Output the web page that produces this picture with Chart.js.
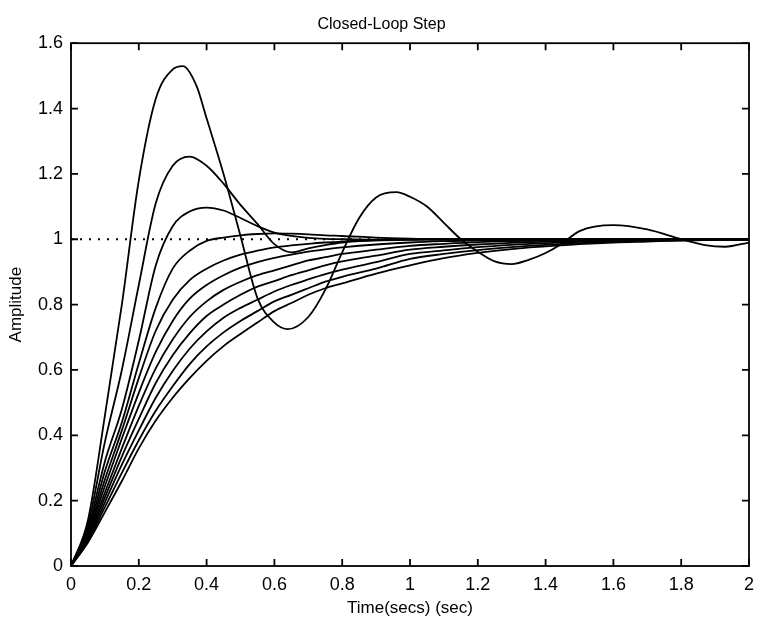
<!DOCTYPE html>
<html>
<head>
<meta charset="utf-8">
<script src="https://cdn.jsdelivr.net/npm/chart.js@4.4.1/dist/chart.umd.min.js"></script>
<style>
  body { margin: 0; background: #fff; }
  canvas { display: block; }
</style>
</head>
<body>
<canvas id="stepChart" width="762" height="619"></canvas>
<script>
// aika-akseli (s) yhteinen useimmille käyrille
const T = [0, 0.05, 0.1, 0.15, 0.2, 0.25, 0.3, 0.35, 0.4, 0.45, 0.5, 0.55, 0.6, 0.65, 0.7, 0.75, 0.8, 0.9, 1.0, 1.1, 1.2, 1.3, 1.4, 1.5, 1.6, 1.7, 1.8, 1.9, 2.0];

// värähtelevä käyrä, oma aikavektori
const T1 = [0, 0.05, 0.1, 0.15, 0.2, 0.25, 0.3, 0.33, 0.37, 0.4, 0.45, 0.5, 0.55, 0.6, 0.64, 0.7, 0.75, 0.8, 0.85, 0.9, 0.96, 1.0, 1.05, 1.1, 1.15, 1.2, 1.25, 1.3, 1.35, 1.4, 1.45, 1.5, 1.6, 1.7, 1.8, 1.87, 1.93, 2.0];
const y1 = [0, 0.14, 0.46, 0.8, 1.18, 1.43, 1.52, 1.53, 1.47, 1.37, 1.2, 1.01, 0.82, 0.745, 0.725, 0.762, 0.845, 0.96, 1.065, 1.128, 1.144, 1.13, 1.1, 1.05, 1.0, 0.962, 0.932, 0.924, 0.937, 0.958, 0.988, 1.025, 1.043, 1.03, 1.0, 0.982, 0.977, 0.99];

const y2 = [0, 0.125, 0.38, 0.6, 0.86, 1.11, 1.225, 1.253, 1.225, 1.17, 1.105, 1.047, 0.985, 0.96, 0.972, 0.982, 0.99, 0.997, 1, 1, 1, 1, 1, 1, 1, 1, 1, 1, 1];
const y3 = [0, 0.115, 0.32, 0.48, 0.69, 0.92, 1.04, 1.085, 1.097, 1.088, 1.065, 1.04, 1.02, 1.01, 1.004, 1.001, 1.0, 0.999, 1, 1, 1, 1, 1, 1, 1, 1, 1, 1, 1];
const y4 = [0, 0.105, 0.29, 0.44, 0.62, 0.79, 0.91, 0.965, 0.995, 1.005, 1.012, 1.016, 1.018, 1.017, 1.015, 1.012, 1.01, 1.005, 1.002, 1, 1, 1, 1, 1, 1, 1, 1, 1, 1];
const y5 = [0, 0.1, 0.265, 0.415, 0.575, 0.72, 0.815, 0.875, 0.91, 0.935, 0.953, 0.965, 0.975, 0.981, 0.986, 0.99, 0.993, 0.997, 0.998, 1, 1, 1, 1, 1, 1, 1, 1, 1, 1];
const y6 = [0, 0.095, 0.245, 0.39, 0.53, 0.655, 0.75, 0.818, 0.86, 0.89, 0.913, 0.93, 0.943, 0.953, 0.962, 0.969, 0.975, 0.984, 0.99, 0.994, 0.997, 0.998, 0.999, 1, 1, 1, 1, 1, 1];
const y7 = [0, 0.09, 0.225, 0.36, 0.49, 0.605, 0.693, 0.762, 0.81, 0.845, 0.87, 0.89, 0.905, 0.92, 0.935, 0.945, 0.955, 0.968, 0.98, 0.986, 0.991, 0.994, 0.996, 0.998, 0.999, 1, 1, 1, 1];
const y8 = [0, 0.085, 0.21, 0.335, 0.45, 0.56, 0.645, 0.712, 0.765, 0.8, 0.83, 0.855, 0.872, 0.89, 0.905, 0.92, 0.932, 0.95, 0.968, 0.977, 0.984, 0.989, 0.993, 0.995, 0.997, 0.998, 0.999, 0.999, 1];
const y9 = [0, 0.08, 0.195, 0.31, 0.415, 0.515, 0.597, 0.665, 0.718, 0.76, 0.79, 0.815, 0.84, 0.86, 0.877, 0.893, 0.907, 0.93, 0.955, 0.966, 0.976, 0.983, 0.988, 0.992, 0.994, 0.996, 0.998, 0.999, 1];
const y10 = [0, 0.076, 0.18, 0.285, 0.385, 0.475, 0.55, 0.618, 0.672, 0.715, 0.75, 0.78, 0.81, 0.83, 0.85, 0.87, 0.885, 0.91, 0.94, 0.955, 0.967, 0.976, 0.983, 0.988, 0.992, 0.995, 0.997, 0.998, 0.999];
const y11 = [0, 0.072, 0.165, 0.26, 0.36, 0.445, 0.515, 0.575, 0.628, 0.673, 0.71, 0.745, 0.78, 0.805, 0.83, 0.85, 0.865, 0.895, 0.92, 0.942, 0.958, 0.97, 0.978, 0.985, 0.99, 0.993, 0.996, 0.998, 0.999];

// vertailutaso 1
const refT = [0, 2];
const refY = [1, 1];

const FONT = "Arial, 'Liberation Sans', sans-serif";

function pts(xs, ys) {
  return xs.map((x, i) => ({ x: x, y: ys[i] }));
}

function curve(xs, ys) {
  return {
    data: pts(xs, ys),
    borderColor: "#000",
    borderWidth: 1.8,
    pointRadius: 0,
    fill: false,
    cubicInterpolationMode: "monotone",
  };
}

const datasets = [
  {
    data: pts(refT, refY),
    borderColor: "#000",
    borderWidth: 1.8,
    borderDash: [2, 7],
    pointRadius: 0,
    fill: false,
  },
  curve(T1, y1),
];
[y2, y3, y4, y5, y6, y7, y8, y9, y10, y11].forEach((ys) => datasets.push(curve(T, ys)));

// kehys ja sisäänpäin osoittavat tikit kaikille neljälle sivulle
const frameTicks = {
  id: "frameTicks",
  afterDatasetsDraw(chart) {
    const ctx = chart.ctx;
    const a = chart.chartArea;
    const sx = chart.scales.x;
    const sy = chart.scales.y;
    ctx.save();
    ctx.strokeStyle = "#000";
    ctx.lineWidth = 1.8;
    ctx.strokeRect(a.left, a.top, a.right - a.left, a.bottom - a.top);
    ctx.beginPath();
    sx.ticks.forEach((t) => {
      const px = sx.getPixelForValue(t.value);
      ctx.moveTo(px, a.bottom);
      ctx.lineTo(px, a.bottom - 7);
      ctx.moveTo(px, a.top);
      ctx.lineTo(px, a.top + 7);
    });
    sy.ticks.forEach((t) => {
      const py = sy.getPixelForValue(t.value);
      ctx.moveTo(a.left, py);
      ctx.lineTo(a.left + 7, py);
      ctx.moveTo(a.right, py);
      ctx.lineTo(a.right - 7, py);
    });
    ctx.stroke();
    ctx.restore();
  },
};

const fmt = (v) => String(Math.round(v * 10) / 10);

new Chart(document.getElementById("stepChart"), {
  type: "line",
  data: { datasets: datasets },
  plugins: [frameTicks],
  options: {
    responsive: false,
    animation: false,
    devicePixelRatio: 1,
    layout: { autoPadding: false, padding: { left: 6, right: 5, top: 0, bottom: 0 } },
    plugins: {
      legend: { display: false },
      tooltip: { enabled: false },
      title: {
        display: true,
        text: "Closed-Loop Step",
        color: "#000",
        font: { family: FONT, size: 16, weight: "normal" },
        padding: { top: 15, bottom: 9 },
      },
    },
    scales: {
      x: {
        type: "linear",
        min: 0,
        max: 2,
        grid: { display: false, drawTicks: false },
        border: { display: false },
        ticks: { stepSize: 0.2, callback: fmt, color: "#000", padding: 8, maxRotation: 0, font: { family: FONT, size: 18 } },
        title: { display: true, text: "Time(secs) (sec)", color: "#000", padding: 0, font: { family: FONT, size: 17 } },
        afterFit: (s) => { s.height = 53; },
      },
      y: {
        min: 0,
        max: 1.6,
        grid: { display: false, drawTicks: false },
        border: { display: false },
        ticks: { stepSize: 0.2, callback: fmt, color: "#000", padding: 8, font: { family: FONT, size: 18 } },
        title: { display: true, text: "Amplitude", color: "#000", padding: 0, font: { family: FONT, size: 17 } },
        afterFit: (s) => { s.width = 65; },
      },
    },
  },
});
</script>
</body>
</html>
